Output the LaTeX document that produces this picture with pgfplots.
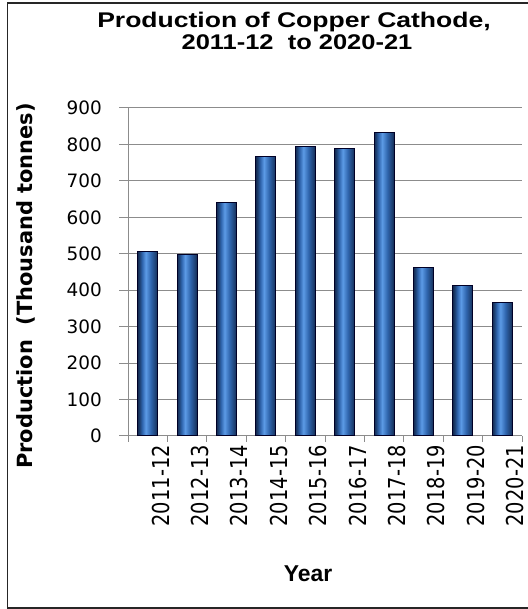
\documentclass[border=0pt]{standalone}
\usepackage{pgfplots}
\pgfplotsset{compat=1.18}
\usepackage{fontspec}
\setmainfont{Liberation Sans}
\newfontfamily\dejavu{DejaVu Sans}
\definecolor{barDark}{HTML}{132A50}
\definecolor{barMid}{HTML}{2F65AD}
\definecolor{barLight}{HTML}{5C9BE6}
\definecolor{gridGray}{HTML}{8C8C8C}
\pgfdeclarehorizontalshading{barshade}{100bp}{color(0bp)=(barDark); color(25bp)=(barDark); color(30bp)=(barDark!60!barMid); color(36bp)=(barMid); color(45bp)=(barLight); color(58bp)=(barMid); color(69bp)=(barDark!60!barMid); color(75bp)=(barDark); color(100bp)=(barDark)}
\newcommand\xl[1]{\scalebox{1}[1.2]{#1}}
\begin{document}
\begin{tikzpicture}[x=1bp,y=1bp]
\useasboundingbox (0,0) rectangle (528,609);
\draw[black!85, line width=1.3bp] (530,606) -- (7.5,606) -- (7.5,1) -- (530,1);
\begin{axis}[
  at={(128bp,173bp)}, anchor=south west,
  scale only axis, width=394bp, height=328bp,
  xmin=-0.5, xmax=9.5, ymin=0, ymax=900,
  axis x line*=bottom, axis y line*=left,
  axis line style={gridGray, line width=1bp},
  xtick={0,...,9},
  xticklabels={\xl{2011-12},\xl{2012-13},\xl{2013-14},\xl{2014-15},\xl{2015-16},\xl{2016-17},\xl{2017-18},\xl{2018-19},\xl{2019-20},\xl{2020-21}},
  major x tick style={draw=none},
  minor xtick={-0.5,0.5,...,9.5},
  minor x tick style={gridGray, line width=1bp},
  minor tick length=6bp,
  ytick={0,100,...,900},
  yticklabels={0,100,200,300,400,500,600,700,800,900},
  major y tick style={gridGray, line width=1bp},
  major tick length=9bp,
  tick align=outside,
  ymajorgrids, grid style={gridGray, line width=1bp},
  xticklabel style={rotate=90, anchor=east, font=\dejavu\fontsize{19.5}{19.5}\selectfont, yshift=-13bp, inner sep=0pt},
  yticklabel style={font=\dejavu\fontsize{18.5}{18.5}\selectfont, anchor=east, xshift=-17bp, inner sep=0pt},
  clip=false,
  barstyle/.style={ybar, bar width=20bp, bar shift=0pt, draw=black!85!blue, line width=1bp, shading=barshade, shading angle=0},
]
\addplot[barstyle] coordinates {(0,507)};
\addplot[barstyle] coordinates {(1,497)};
\addplot[barstyle] coordinates {(2,640)};
\addplot[barstyle] coordinates {(3,766)};
\addplot[barstyle] coordinates {(4,795)};
\addplot[barstyle] coordinates {(5,789)};
\addplot[barstyle] coordinates {(6,833)};
\addplot[barstyle] coordinates {(7,462)};
\addplot[barstyle] coordinates {(8,412)};
\addplot[barstyle] coordinates {(9,367)};
\end{axis}
\node[anchor=base, inner sep=0pt] at (294,581) {\fontsize{21.3}{21.3}\selectfont\bfseries\scalebox{1.25}[1]{Production of Copper Cathode,}};
\node[anchor=base, inner sep=0pt] at (297,559) {\fontsize{21.3}{21.3}\selectfont\bfseries\scalebox{1.2}[1]{2011-12\ \ to 2020-21}};
\node[rotate=90, inner sep=0pt] at (26,323) {\dejavu\fontsize{21}{21}\selectfont\bfseries Production\ \ (Thousand tonnes)};
\node[anchor=base, inner sep=0pt] at (308,27) {\fontsize{23}{23}\selectfont\bfseries Year};
\end{tikzpicture}
\end{document}
